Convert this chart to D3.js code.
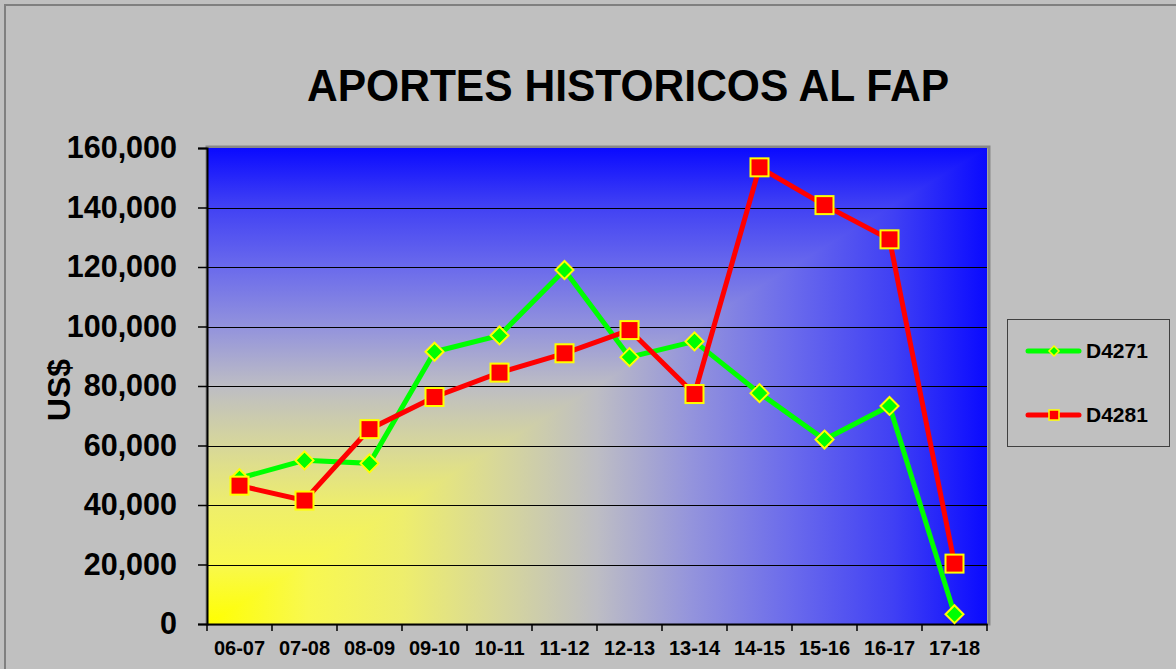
<!DOCTYPE html>
<html>
<head>
<meta charset="utf-8">
<script src="https://cdn.jsdelivr.net/npm/d3@7"></script>
<style>
  body { margin:0; background:#C0C0C0; }
  svg { display:block; font-family:"Liberation Sans", Arial, sans-serif; }
</style>
</head>
<body>
<script>
const seasons = ['06-07','07-08','08-09','09-10','10-11','11-12','12-13','13-14','14-15','15-16','16-17','17-18']
const d4271 = [49000,55000,54000,91500,97000,119000,89700,95000,77600,62000,73300,3300]
const d4281 = [46500,41500,65500,76300,84500,91000,98800,77300,153500,140800,129300,20300]
const seriesNames = ['D4271','D4281']
const yTicks = [0,20000,40000,60000,80000,100000,120000,140000,160000]

const W = 1176, H = 669
const m = {left:207, top:148, right:987, bottom:624}

const svg = d3.select('body').append('svg').attr('width',W).attr('height',H)

// outer chart border
svg.append('rect').attr('x',5).attr('y',5).attr('width',W+10).attr('height',H+10)
  .attr('fill','#C0C0C0').attr('stroke','#808080').attr('stroke-width',2)

// "from corner" fill: horizontal and vertical gradients meeting on the diagonal
const stops = [[0,'#FFFF00'],[0.13,'#F8F850'],[0.25,'#EEEE6C'],[0.38,'#D6D69C'],[0.5,'#BDBDC4'],
  [0.62,'#9494DC'],[0.75,'#6A6AEC'],[0.88,'#4040F4'],[1,'#0A0AFF']]
const defs = svg.append('defs')
const gh = defs.append('linearGradient').attr('id','gh').attr('x1',0).attr('y1',0).attr('x2',1).attr('y2',0)
const gv = defs.append('linearGradient').attr('id','gv').attr('x1',0).attr('y1',1).attr('x2',0).attr('y2',0)
stops.forEach(([o,c]) => {
  gh.append('stop').attr('offset',o).attr('stop-color',c)
  gv.append('stop').attr('offset',o).attr('stop-color',c)
})

const x = d3.scaleBand().domain(seasons).range([m.left,m.right])
const y = d3.scaleLinear().domain([0,160000]).range([m.bottom,m.top])

// plot area
svg.append('rect').attr('x',m.left).attr('y',m.top-1).attr('width',m.right-m.left+2).attr('height',m.bottom-m.top+1)
  .attr('fill','none').attr('stroke','#888').attr('stroke-width',3)
svg.append('rect').attr('x',m.left).attr('y',m.top).attr('width',m.right-m.left).attr('height',m.bottom-m.top)
  .attr('fill','url(#gh)')
svg.append('path')
  .attr('d',`M${m.left},${m.bottom}L${m.right},${m.top}L${m.left},${m.top}Z`)
  .attr('fill','url(#gv)')

// gridlines
svg.append('g').selectAll('line').data(yTicks.slice(1,-1)).enter().append('line')
  .attr('x1',m.left).attr('x2',m.right)
  .attr('y1',d => Math.round(y(d))+0.5).attr('y2',d => Math.round(y(d))+0.5)
  .attr('stroke','#000').attr('stroke-width',1)

// axes
const yAxis = svg.append('g').attr('transform',`translate(${m.left},0)`)
  .call(d3.axisLeft(y).tickValues(yTicks).tickFormat(d3.format(',')).tickSize(9).tickPadding(21))
yAxis.select('.domain').attr('stroke-width',2)
yAxis.selectAll('.tick line').attr('stroke-width',1.5)
yAxis.selectAll('text').attr('font-size',30.5).attr('font-weight','bold').attr('fill','#000')

const xAxis = svg.append('g').attr('transform',`translate(0,${m.bottom})`)
  .call(d3.axisBottom(x).tickSize(0).tickPadding(0))
xAxis.select('.domain').attr('stroke-width',2)
xAxis.selectAll('text').attr('dy',null).attr('y',31).attr('font-size',20).attr('font-weight','bold').attr('fill','#000')
svg.append('g').selectAll('line').data(d3.range(seasons.length+1)).enter().append('line')
  .attr('x1',i => m.left + i*x.step()).attr('x2',i => m.left + i*x.step())
  .attr('y1',m.bottom).attr('y2',m.bottom+7).attr('stroke','#000').attr('stroke-width',1.5)

// lines
const line = d3.line().x((d,i) => x(seasons[i])+x.bandwidth()/2).y(d => y(d))
svg.append('path').datum(d4271).attr('d',line).attr('fill','none').attr('stroke','#00FF00').attr('stroke-width',5)
svg.append('path').datum(d4281).attr('d',line).attr('fill','none').attr('stroke','#FF0000').attr('stroke-width',5)

// markers
const diamond = (cx,cy,r) => `M${cx},${cy-r}L${cx+r},${cy}L${cx},${cy+r}L${cx-r},${cy}Z`
svg.append('g').selectAll('path').data(d4271).enter().append('path')
  .attr('d',(d,i) => diamond(x(seasons[i])+x.bandwidth()/2,y(d),9))
  .attr('fill','#00FF00').attr('stroke','#FFFF00').attr('stroke-width',2)
svg.append('g').selectAll('rect').data(d4281).enter().append('rect')
  .attr('x',(d,i) => x(seasons[i])+x.bandwidth()/2-9).attr('y',d => y(d)-9)
  .attr('width',18).attr('height',18)
  .attr('fill','#FF0000').attr('stroke','#FFFF00').attr('stroke-width',2)

// title
svg.append('text').attr('x',628).attr('y',101).attr('text-anchor','middle')
  .attr('font-size',45).attr('font-weight','bold')
  .attr('textLength',642).attr('lengthAdjust','spacingAndGlyphs')
  .text('APORTES HISTORICOS AL FAP')

// y label
svg.append('text').attr('transform','translate(70,390) rotate(-90)').attr('text-anchor','middle')
  .attr('font-size',32).attr('font-weight','bold').text('US$')

// legend
const lg = svg.append('g')
lg.append('rect').attr('x',1007.5).attr('y',319.5).attr('width',162).attr('height',127)
  .attr('fill','none').attr('stroke','#404040').attr('stroke-width',1)
const lgY = [351,415]
seriesNames.forEach((name,i) => {
  const cy = lgY[i]
  lg.append('line').attr('x1',1028).attr('x2',1079).attr('y1',cy).attr('y2',cy)
    .attr('stroke',i ? '#FF0000' : '#00FF00').attr('stroke-width',5).attr('stroke-linecap','round')
  if (i) lg.append('rect').attr('x',1049).attr('y',cy-5).attr('width',10).attr('height',10)
    .attr('fill','#FF0000').attr('stroke','#FFFF00').attr('stroke-width',1.5)
  else lg.append('path').attr('d',diamond(1054,cy,5))
    .attr('fill','#00FF00').attr('stroke','#FFFF00').attr('stroke-width',1.5)
  lg.append('text').attr('x',1086).attr('y',cy+7).attr('font-size',21).attr('font-weight','bold').text(name)
})
</script>
</body>
</html>
